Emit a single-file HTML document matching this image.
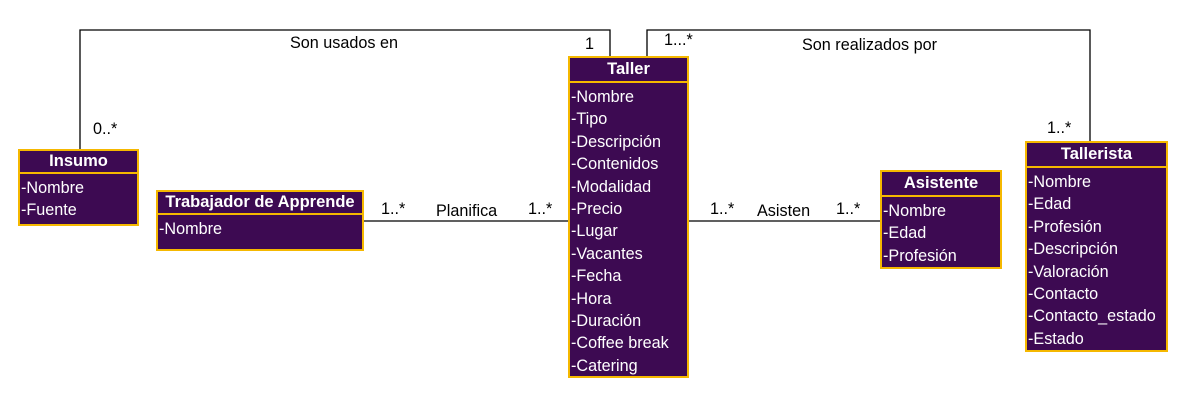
<!DOCTYPE html>
<html><head><meta charset="utf-8"><style>
body{margin:0;width:1185px;height:405px;background:#fff;position:relative;overflow:hidden;font-family:"Liberation Sans",Arial,sans-serif;}
.box{position:absolute;background:#3d0a52;border:2px solid #f5b800;box-sizing:border-box;color:#fff;}
.hd{font-weight:bold;text-align:center;font-size:16.5px;border-bottom:2px solid #f5b800;box-sizing:border-box;white-space:nowrap;}
.at{font-size:16.2px;line-height:22.4px;padding-left:1px;white-space:nowrap;}
.t{position:absolute;font-size:16.2px;color:#000;white-space:nowrap;}
</style></head><body>
<svg width="1185" height="405" style="position:absolute;left:0;top:0">
<polyline points="80,149 80,30 610,30 610,56" fill="none" stroke="#000" stroke-width="1.3"/>
<polyline points="647,56 647,30 1090,30 1090,141" fill="none" stroke="#000" stroke-width="1.3"/>
<line x1="363" y1="221" x2="568" y2="221" stroke="#000" stroke-width="1.3"/>
<line x1="688" y1="221" x2="880" y2="221" stroke="#000" stroke-width="1.3"/>
</svg>

<div class="box" style="left:18px;top:149px;width:121px;height:77px">
<div class="hd" style="height:23px;line-height:21px">Insumo</div>
<div class="at" style="padding-top:3px">-Nombre<br>-Fuente</div></div>

<div class="box" style="left:156px;top:190px;width:208px;height:61px">
<div class="hd" style="height:23px;line-height:21px">Trabajador de Apprende</div>
<div class="at" style="padding-top:3px">-Nombre</div></div>

<div class="box" style="left:568px;top:56px;width:121px;height:322px">
<div class="hd" style="height:25px;line-height:23px">Taller</div>
<div class="at" style="padding-top:3px">-Nombre<br>-Tipo<br>-Descripción<br>-Contenidos<br>-Modalidad<br>-Precio<br>-Lugar<br>-Vacantes<br>-Fecha<br>-Hora<br>-Duración<br>-Coffee break<br>-Catering</div></div>

<div class="box" style="left:880px;top:170px;width:122px;height:99px">
<div class="hd" style="height:25px;line-height:23px">Asistente</div>
<div class="at" style="padding-top:3px">-Nombre<br>-Edad<br>-Profesión</div></div>

<div class="box" style="left:1025px;top:141px;width:143px;height:211px">
<div class="hd" style="height:25px;line-height:23px">Tallerista</div>
<div class="at" style="padding-top:3px">-Nombre<br>-Edad<br>-Profesión<br>-Descripción<br>-Valoración<br>-Contacto<br>-Contacto_estado<br>-Estado</div></div>

<div class="t" style="left:290px;top:34px">Son usados en</div>
<div class="t" style="left:585px;top:35px">1</div>
<div class="t" style="left:93px;top:120px">0..*</div>
<div class="t" style="left:664px;top:31px">1...*</div>
<div class="t" style="left:802px;top:36px">Son realizados por</div>
<div class="t" style="left:1047px;top:119px">1..*</div>
<div class="t" style="left:381px;top:200px">1..*</div>
<div class="t" style="left:436px;top:202px">Planifica</div>
<div class="t" style="left:528px;top:200px">1..*</div>
<div class="t" style="left:710px;top:200px">1..*</div>
<div class="t" style="left:757px;top:202px">Asisten</div>
<div class="t" style="left:836px;top:200px">1..*</div>
</body></html>
